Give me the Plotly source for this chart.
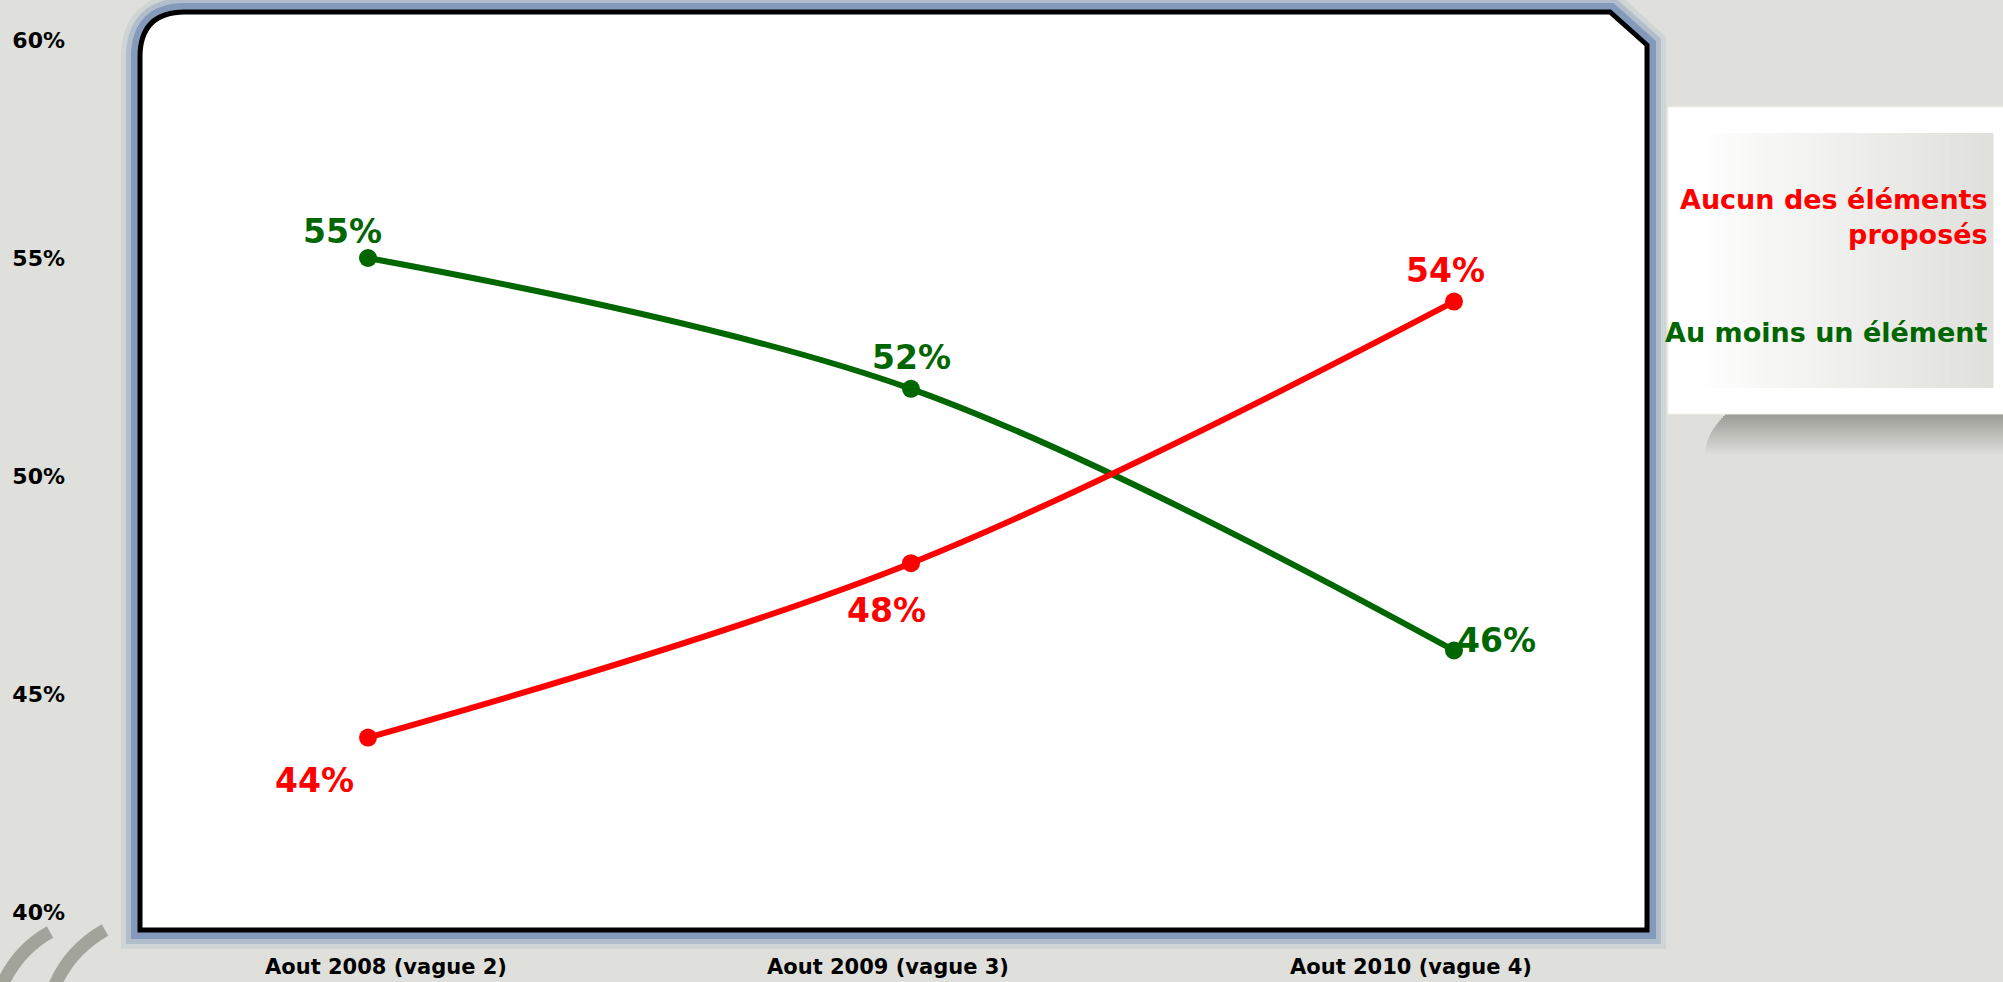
import plotly.graph_objects as go

# data
waves = ["Aout 2008 (vague 2)", "Aout 2009 (vague 3)", "Aout 2010 (vague 4)"]
series_names = ["Aucun des éléments<br>proposés", "Au moins un élément"]
aucun = [44, 48, 54]
au_moins = [55, 52, 46]
y_ticks = [40, 45, 50, 55, 60]

RED = "#ff0000"
GREEN = "#006600"
BG = "#dfe0db"

W, H = 2003, 982
L, R, T, B = 140, 1647, 12, 930


def px(x):
    return (x - L) / (R - L)


def py(y):
    return (B - y) / (B - T)


def path(pts, close=True):
    s = ""
    for i, p in enumerate(pts):
        if isinstance(p[0], tuple):
            (cx, cy), (ex, ey) = p
            s += f" Q {px(cx)},{py(cy)} {px(ex)},{py(ey)}"
        else:
            s += (" M " if i == 0 else " L ") + f"{px(p[0])},{py(p[1])}"
    return s + (" Z" if close else "")


xs = list(range(len(waves)))
fig = go.Figure()

fig.add_trace(go.Scatter(x=xs, y=au_moins, mode="lines+markers",
                         line=dict(color=GREEN, width=6, shape="spline", smoothing=1),
                         marker=dict(size=18, color=GREEN), showlegend=False,
                         hoverinfo="skip"))
fig.add_trace(go.Scatter(x=xs, y=aucun, mode="lines+markers",
                         line=dict(color=RED, width=6, shape="spline", smoothing=1),
                         marker=dict(size=18, color=RED), showlegend=False,
                         hoverinfo="skip"))

# value labels
green_shift = [(-26, 27), (0, 31), (42, 10)]
red_shift = [(-54, -43), (-25, -47), (-9, 31)]
ann = []
for vals, col, shifts in [(au_moins, GREEN, green_shift), (aucun, RED, red_shift)]:
    for i, v in enumerate(vals):
        ann.append(dict(x=xs[i], y=v, text=f"<b>{v}%</b>", showarrow=False,
                        xshift=shifts[i][0], yshift=shifts[i][1],
                        font=dict(size=33, color=col, family="DejaVu Sans")))

# legend text
ann.append(dict(x=px(1990), y=py(217), xref="paper", yref="paper", xanchor="right",
                yanchor="middle", align="right", showarrow=False,
                text=f"<b>{series_names[0]}</b>",
                font=dict(size=27, color=RED, family="DejaVu Sans")))
ann.append(dict(x=px(1990), y=py(332), xref="paper", yref="paper", xanchor="right",
                yanchor="middle", align="right", showarrow=False,
                text=f"<b>{series_names[1]}</b>",
                font=dict(size=27, color=GREEN, family="DejaVu Sans")))

shapes = []
frame = path([(140, 57), ((140, 12), (185, 12)), (1610, 12), (1647, 45), (1647, 930), (140, 930)])
# blue glow around the frame
for w, c in [(38, "rgba(120,145,182,0.15)"), (28, "rgba(120,145,182,0.35)"),
             (18, "rgba(120,145,182,0.8)")]:
    shapes.append(dict(type="path", xref="paper", yref="paper", path=frame,
                       line=dict(color=c, width=w), layer="below"))
shapes.append(dict(type="path", xref="paper", yref="paper", path=frame,
                   fillcolor="white", line=dict(color="black", width=5), layer="below"))

# legend box shadow
n = 20
for i in range(n):
    t = i / n
    c0, c1 = (156, 157, 151), (223, 224, 219)
    c = tuple(int(c0[k] + (c1[k] - c0[k]) * t) for k in range(3))
    shapes.append(dict(type="rect", xref="paper", yref="paper",
                       x0=px(1705 + 20 * (1 - t) ** 2), x1=px(2010),
                       y0=py(414 + 2 * i), y1=py(414 + 2 * (i + 1)),
                       fillcolor=f"rgb{c}", line=dict(width=0), layer="below"))
# legend box
shapes.append(dict(type="rect", xref="paper", yref="paper", x0=px(1668), x1=px(2010),
                   y0=py(107), y1=py(414), fillcolor="white",
                   line=dict(color="#f0f0ee", width=1), layer="below"))
n = 40
x0, x1 = 1695, 1993
for i in range(n):
    t = i / (n - 1)
    c0, c1 = (255, 255, 255), (224, 225, 220)
    c = tuple(int(c0[k] + (c1[k] - c0[k]) * t) for k in range(3))
    shapes.append(dict(type="rect", xref="paper", yref="paper",
                       x0=px(x0 + (x1 - x0) * i / n), x1=px(x0 + (x1 - x0) * (i + 1) / n + 0.5),
                       y0=py(133), y1=py(388), fillcolor=f"rgb{c}",
                       line=dict(width=0), layer="below"))

# quote decoration, bottom left
for p in [[(50, 932), ((18, 950), (2, 985))], [(105, 930), ((70, 950), (55, 985))]]:
    shapes.append(dict(type="path", xref="paper", yref="paper", path=path(p, close=False),
                       line=dict(color="#a2a49b", width=13), layer="below"))

fig.update_layout(
    width=W, height=H,
    margin=dict(l=L, r=W - R, t=T, b=H - B, autoexpand=False),
    paper_bgcolor=BG, plot_bgcolor="rgba(0,0,0,0)",
    font=dict(family="DejaVu Sans", color="black"),
    shapes=shapes, annotations=ann,
)
fig.update_xaxes(range=[(140 - 368) / 543, (1647 - 368) / 543],
                 tickvals=[(386 - 368) / 543, (888 - 368) / 543, (1411 - 368) / 543],
                 ticktext=[f"<b>{w}</b>" for w in waves],
                 tickfont=dict(size=21), ticklabelstandoff=22, automargin=False,
                 showgrid=False, zeroline=False, showline=False)
fig.update_yaxes(range=[40 - 18 / 43.6, 60 + 28 / 43.6], tickvals=y_ticks,
                 ticktext=[f"<b>{v}%</b>" for v in y_ticks],
                 tickfont=dict(size=22), ticklabelstandoff=74, automargin=False,
                 showgrid=False, zeroline=False, showline=False)

fig.write_html("out.html", config={"displayModeBar": False},
               post_script="document.body.style.margin='0';"
               "document.body.style.background='#dfe0db';")
